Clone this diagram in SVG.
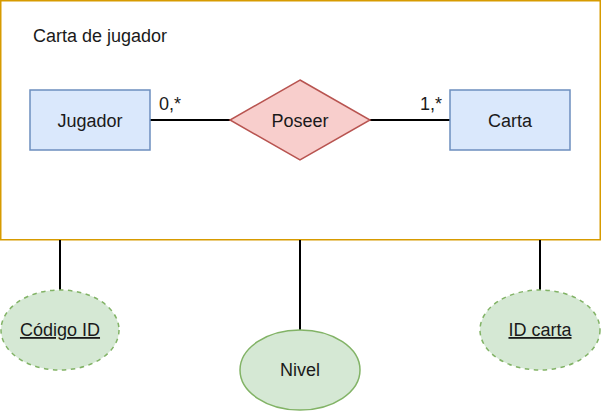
<svg xmlns="http://www.w3.org/2000/svg" width="602" height="411" viewBox="0 0 602 411">
<style>
text{font-family:"Liberation Sans",Arial,sans-serif;font-size:18px;fill:#1a1a1a;}
.c{text-anchor:middle;}
.ent{fill:#dae8fc;stroke:#6c8ebf;stroke-width:1.5;}
.rel{fill:#f8cecc;stroke:#b85450;stroke-width:1.5;}
.attr{fill:#d5e8d4;stroke:#82b366;stroke-width:1.5;}
.key{stroke-dasharray:4.5 4.5;}
.edge{stroke:#000;stroke-width:2;fill:none;}
</style>
<g id="frame">
<rect x="0.75" y="0.75" width="599.5" height="239" fill="#ffffff" stroke="#d79b00" stroke-width="1.5"/>
<text x="33" y="42">Carta de jugador</text>
</g>
<g id="connectors">
<line class="edge" x1="150" y1="120" x2="230" y2="120"/>
<line class="edge" x1="370" y1="120" x2="450" y2="120"/>
<line class="edge" x1="60" y1="240" x2="60" y2="290"/>
<line class="edge" x1="300" y1="240" x2="300" y2="330"/>
<line class="edge" x1="540" y1="240" x2="540" y2="290"/>
<text x="159" y="110">0,*</text>
<text x="420" y="110">1,*</text>
</g>
<g id="jugador">
<rect class="ent" x="30" y="90" width="120" height="60"/>
<text class="c" x="90" y="127">Jugador</text>
</g>
<g id="poseer">
<polygon class="rel" points="300,80 370,120 300,160 230,120"/>
<text class="c" x="300" y="127">Poseer</text>
</g>
<g id="carta">
<rect class="ent" x="450" y="90" width="120" height="60"/>
<text class="c" x="510" y="127">Carta</text>
</g>
<g id="codigo">
<ellipse class="attr key" cx="60" cy="330" rx="59" ry="40"/>
<text class="c" x="60" y="336" text-decoration="underline">Código ID</text>
</g>
<g id="nivel">
<ellipse class="attr" cx="300" cy="370" rx="60" ry="40"/>
<text class="c" x="300" y="376">Nivel</text>
</g>
<g id="idcarta">
<ellipse class="attr key" cx="540" cy="330" rx="60" ry="40"/>
<text class="c" x="540" y="336" text-decoration="underline">ID carta</text>
</g>
</svg>
